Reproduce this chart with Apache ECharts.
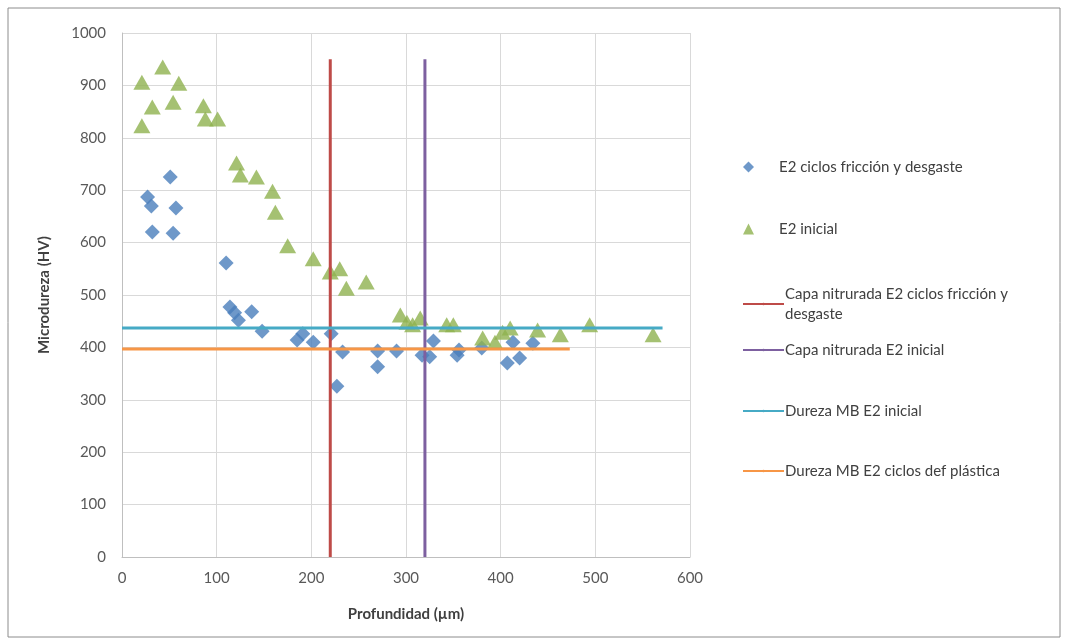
<!DOCTYPE html>
<html><head><meta charset="utf-8">
<script src="https://cdn.jsdelivr.net/npm/echarts@6/dist/echarts.min.js"></script>
<style>html,body{margin:0;padding:0;background:#fff}#c{width:1067px;height:644px}</style>
</head><body><div id="c"></div>
<script>
// E2 ciclos fricción y desgaste: [profundidad µm, HV]
const friccionData = [
  [27,687],[31,670],[32,620],[51,725],[57,666],[54,618],
  [110,561],[114,477],[119,466],[123,452],[137,468],[148,431],
  [185,414],[191,426],[202,410],[221,426],[233,391],[227,326],
  [270,393],[270,363],[290,393],[317,385],[325,382],[329,412],
  [354,385],[356,395],[380,399],[407,370],[420,380],[413,410],[434,408]
];
// E2 inicial
const inicialData = [
  [21,906],[43,935],[60,904],[32,859],[54,868],[21,823],
  [86,861],[88,836],[101,836],[121,752],[125,729],[142,725],
  [159,698],[162,658],[175,594],[202,569],[220,544],[230,550],
  [237,513],[258,525],[294,462],[301,448],[307,443],[315,456],
  [343,443],[350,443],[381,418],[394,410],[402,429],[410,437],
  [439,433],[463,424],[494,443],[561,424]
];
const capaFriccion = [[220,0],[220,950]];
const capaInicial = [[320,0],[320,950]];
const durezaInicial = [[0,437],[571,437]];
const durezaDef = [[0,397],[473,397]];
const xTicks = {min:0, max:600, interval:100};
const yTicks = {min:0, max:1000, interval:100};

const names = [
  'E2 ciclos fricción y desgaste',
  'E2 inicial',
  'Capa nitrurada E2 ciclos fricción y desgaste',
  'Capa nitrurada E2 inicial',
  'Dureza MB E2 inicial',
  'Dureza MB E2 ciclos def plástica'
];
const FONT = 'Lato';
const legendTops = [152, 214, 279, 335, 396, 456];
const legends = names.map((n,i)=>({
  data:[i<2?{name:n,icon:i===0?'diamond':'triangle'}:{name:n}],
  left: i<2?738:737, top: legendTops[i],
  itemWidth: i<2?11:41, itemHeight: i<2?11:3, itemGap:0,
  selectedMode:false,
  formatter: n2 => n2==='Capa nitrurada E2 ciclos fricción y desgaste' ? 'Capa nitrurada E2 ciclos fricción y\ndesgaste' : n2,
  textStyle:{fontFamily:FONT,fontSize:15,color:'#404040',lineHeight:20,padding:[0,0,0,i<2?20:-4]}
}));
const lineSeries = (name, data, color) => ({
  name, type:'line', data, symbol:'none', silent:true,
  lineStyle:{color, width:3}, itemStyle:{color}
});
const chart = echarts.init(document.getElementById('c'), null, {renderer:'canvas'});
chart.setOption({
  animation:false,
  backgroundColor:'#fff',
  graphic:[{type:'rect',shape:{x:8,y:8,width:1052,height:629},style:{fill:'none',stroke:'#8c8c8c',lineWidth:1}}],
  legend: legends,
  grid:{left:122,right:377,top:33,bottom:87},
  xAxis:{type:'value',...xTicks,
    name:'Profundidad (µm)',nameLocation:'middle',nameGap:50,
    nameTextStyle:{fontFamily:FONT,fontSize:15,fontWeight:'bold',color:'#404040'},
    axisLine:{show:true,onZero:false,lineStyle:{color:'#bfbfbf'}},
    axisTick:{show:false},
    axisLabel:{fontFamily:FONT,fontSize:15,color:'#595959',margin:14},
    splitLine:{show:true,lineStyle:{color:'#d9d9d9'}}},
  yAxis:{type:'value',...yTicks,
    name:'Microdureza (HV)',nameLocation:'middle',nameGap:70,nameRotate:90,
    nameTextStyle:{fontFamily:FONT,fontSize:15,fontWeight:'bold',color:'#404040'},
    axisLine:{show:true,lineStyle:{color:'#bfbfbf'}},
    axisTick:{show:false},
    axisLabel:{fontFamily:FONT,fontSize:15,color:'#595959',margin:16,formatter:v=>String(v)},
    splitLine:{show:true,lineStyle:{color:'#d9d9d9'}}},
  series:[
    {name:names[0],type:'scatter',data:friccionData,symbol:'diamond',symbolSize:[15,15],
      itemStyle:{color:'#4a7ebb'}},
    {name:names[1],type:'scatter',data:inicialData,symbol:'triangle',symbolSize:[17,15],
      itemStyle:{color:'#8fb24f'}},
    lineSeries(names[2],capaFriccion,'#be4b48'),
    lineSeries(names[3],capaInicial,'#7d60a0'),
    lineSeries(names[4],durezaInicial,'#46aac5'),
    lineSeries(names[5],durezaDef,'#f79646')
  ]
});
</script></body></html>
